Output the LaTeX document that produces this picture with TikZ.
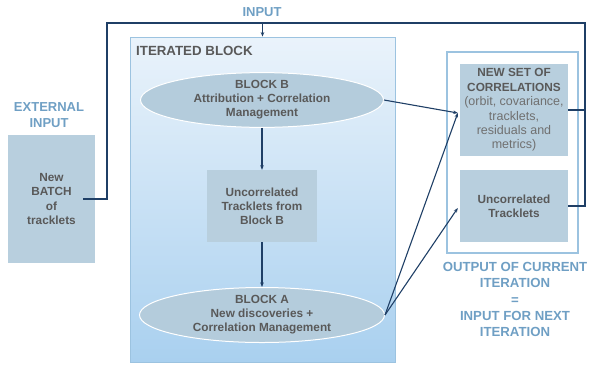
\documentclass[tikz,border=0pt]{standalone}
\usepackage{fontspec}
\setmainfont{Liberation Sans}
\usetikzlibrary{shapes.geometric,arrows.meta,calc}
\definecolor{boxfill}{HTML}{B8CFDE}
\definecolor{ellfill}{HTML}{B4CCDC}
\definecolor{linec}{HTML}{1F3F66}
\definecolor{txtdark}{HTML}{595959}
\definecolor{txtlight}{HTML}{707070}
\definecolor{lblblue}{HTML}{6F9FC4}
\definecolor{frameblue}{HTML}{9CC3E0}
\definecolor{gradtop}{HTML}{EAF3FB}
\definecolor{gradbot}{HTML}{A9D0EF}
\tikzset{
  boxnode/.style={rectangle, fill=boxfill, inner sep=0pt, align=center,
    text=txtdark, font=\fontsize{11.8}{14.2}\selectfont\bfseries},
  ellnode/.style={ellipse, fill=ellfill, draw=white, line width=1pt, inner sep=0pt,
    align=center, text=txtdark, font=\fontsize{11.8}{14}\selectfont\bfseries},
  bluelabel/.style={align=center, text=lblblue, font=\fontsize{13}{16}\selectfont\bfseries, inner sep=0pt},
  conn/.style={draw=linec, line width=1.1pt},
  arr/.style={conn, -{Stealth[length=4.5pt,width=3.5pt]}}
}
\begin{document}
\begin{tikzpicture}[x=1pt,y=-1pt]
\useasboundingbox (0,0) rectangle (589,365);
% iterated block
\node[rectangle, minimum width=265pt, minimum height=325pt, top color=gradtop,
  bottom color=gradbot, draw=frameblue, line width=0.8pt] (iter) at (262.5,199.5) {};
\node[anchor=west, text=txtdark, font=\fontsize{13.3}{15}\selectfont\bfseries, inner sep=0pt] (itlbl) at (136,51) {ITERATED BLOCK};
% output container
\node[rectangle, minimum width=131pt, minimum height=201pt, draw=frameblue, line width=1.2pt, fill=white] (outc) at (512.5,152.5) {};
% nodes
\node[ellnode, minimum width=243pt, minimum height=46pt] (eb) at (262,100) {BLOCK B\\Attribution + Correlation\\Management};
\node[boxnode, minimum width=110pt, minimum height=72pt] (uc) at (262,206) {Uncorrelated\\Tracklets from\\Block B};
\node[ellnode, minimum width=245pt, minimum height=55pt] (ea) at (262,315) {BLOCK A\\New discoveries +\\Correlation Management};
\node[boxnode, minimum width=87pt, minimum height=128pt] (batch) at (51.5,199) {New\\BATCH\\of\\tracklets};
\node[boxnode, minimum width=108pt, minimum height=92pt, font=\fontsize{11.8}{14.4}\selectfont\bfseries] (ns) at (514,110) {NEW SET OF\\CORRELATIONS\\{\normalfont\fontsize{12.5}{14.4}\selectfont\color{txtlight}(orbit, covariance,}\\{\normalfont\fontsize{12.5}{14.4}\selectfont\color{txtlight}tracklets,}\\{\normalfont\fontsize{12.5}{14.4}\selectfont\color{txtlight}residuals and}\\{\normalfont\fontsize{12.5}{14.4}\selectfont\color{txtlight}metrics)}};
\node[boxnode, minimum width=108pt, minimum height=72pt] (ut) at (514,206) {Uncorrelated\\Tracklets};
% labels
\node[bluelabel] (inlbl) at (262,12) {INPUT};
\node[bluelabel] (extlbl) at (49,115) {EXTERNAL\\INPUT};
\node[bluelabel, font=\fontsize{13.2}{16.2}\selectfont\bfseries] (outlbl) at (515,299.5) {OUTPUT OF CURRENT\\ITERATION\\=\\INPUT FOR NEXT\\ITERATION};
% loop
\coordinate (b0) at (83,199);
\coordinate (tl) at (107,23);
\coordinate (tr) at (585,23);
\draw[conn] (b0) -| (tl) -- (tr) |- (ut.east);
\draw[conn] (ns.east) -- (ns.east -| tr);
\draw[arr] (iter.north |- tr) -- (iter.north);
% arrows
\draw[arr] (eb.south) -- (uc.north);
\draw[arr] (uc.south) -- (ea.north);
\draw[arr] (eb.east) -- ($(ns.west)+(-2,3)$);
\draw[arr] (ea.east) -- ($(ns.west)+(-2,3)$);
\draw[arr] (ea.east) -- ($(ut.west)+(-2,2)$);
\end{tikzpicture}
\end{document}
